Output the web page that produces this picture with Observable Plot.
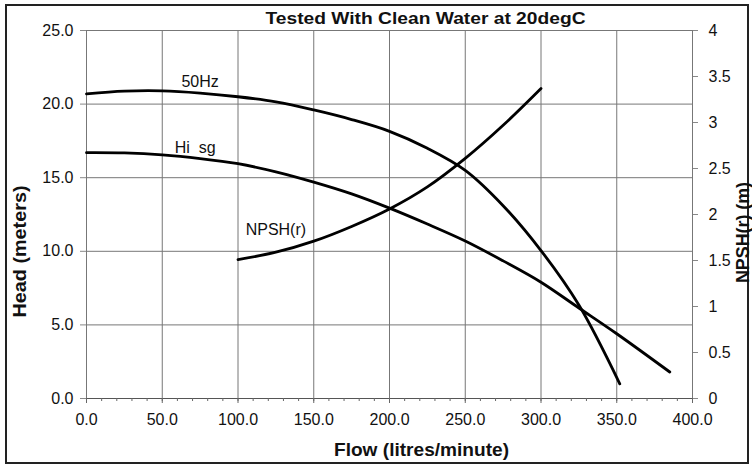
<!DOCTYPE html>
<html><head><meta charset="utf-8">
<script src="https://cdn.jsdelivr.net/npm/d3@7"></script>
<script src="https://cdn.jsdelivr.net/npm/@observablehq/plot@0.6"></script>
<style>
body{margin:0;background:#fff;font-family:"Liberation Sans",Arial,sans-serif;}
#wrap{position:relative;width:752px;height:466px;}
#border{position:absolute;left:5px;top:4px;width:740px;height:456px;border:2px solid #222;pointer-events:none;}
#wrap svg{position:absolute;left:0;top:0;}
</style></head><body><div id="wrap"><div id="border"></div></div>
<script>
// ---- data ----
const hz50Flow = [0, 25, 50, 75, 100, 125, 150, 175, 200, 225, 250, 275, 300, 325, 352];
const hz50Head = [20.7, 20.88, 20.9, 20.75, 20.5, 20.15, 19.6, 18.95, 18.15, 17.0, 15.5, 13.1, 10.05, 6.35, 1.0];
const hisgFlow = [0, 25, 50, 75, 100, 125, 150, 175, 200, 225, 250, 275, 300, 325, 350, 385];
const hisgHead = [16.7, 16.68, 16.55, 16.3, 15.95, 15.4, 14.7, 13.9, 12.93, 11.85, 10.7, 9.35, 7.9, 6.15, 4.4, 1.8];
const npshFlow = [100, 125, 150, 175, 200, 225, 250, 275, 300];
const npshVal  = [1.51, 1.59, 1.71, 1.87, 2.06, 2.3, 2.61, 2.97, 3.37];
const xMajor = [0, 50, 100, 150, 200, 250, 300, 350, 400];
const xMinor = [0,10,20,30,40,50,60,70,80,90,100,110,120,130,140,150,160,170,180,190,200,210,220,230,240,250,260,270,280,290,300,310,320,330,340,350,360,370,380,390,400];
const headTicks = [0, 5, 10, 15, 20, 25];
const npshTicks = [0, 0.5, 1, 1.5, 2, 2.5, 3, 3.5, 4];
const headMax = 25, npshMax = 4;
const labels = ["50Hz", "Hi\u00a0\u00a0sg", "NPSH(r)"];
const title = "Tested With Clean Water at 20degC";
const xTitle = "Flow (litres/minute)";
const yTitle = "Head (meters)";
const y2Title = "NPSH(r) (m)";

// ---- build ----
const k = headMax / npshMax;
const s50 = hz50Flow.map((f, i) => ({flow: f, head: hz50Head[i]}));
const sHi = hisgFlow.map((f, i) => ({flow: f, head: hisgHead[i]}));
const sNp = npshFlow.map((f, i) => ({flow: f, head: npshVal[i] * k}));
const grid = "#777";
const lineOpts = {x: "flow", y: "head", curve: "catmull-rom", stroke: "#000", strokeWidth: 2.8};
const titleOpts = {fontWeight: "bold", textAnchor: "middle", lineAnchor: "middle"};

const chart = Plot.plot({
  width: 752, height: 466,
  marginLeft: 86, marginRight: 60, marginTop: 30, marginBottom: 68,
  style: {fontFamily: "'Liberation Sans', Arial, sans-serif", fontSize: "16px", color: "#111", background: "transparent"},
  x: {domain: [0, 400]},
  y: {domain: [0, headMax]},
  marks: [
    Plot.gridX(xMajor.slice(1, -1), {stroke: grid, strokeOpacity: 1}),
    Plot.gridY(headTicks.slice(1, -1), {stroke: grid, strokeOpacity: 1}),
    Plot.frame({stroke: grid}),
    Plot.ruleY([0], {stroke: "#555"}),
    Plot.axisX(xMinor, {tickSize: 3, tickFormat: () => "", stroke: "#666", label: null}),
    Plot.axisX(xMajor, {tickSize: 5, tickPadding: 10, tickFormat: d3.format(".1f"), stroke: "#666", label: null}),
    Plot.axisY(headTicks, {tickSize: 6, tickPadding: 7, tickFormat: d3.format(".1f"), stroke: "#888", label: null}),
    Plot.axisY(npshTicks.map(v => v * k), {anchor: "right", tickSize: 5, tickPadding: 11, tickFormat: v => d3.format("")(+(v / k).toFixed(2)), stroke: "#888", label: null}),
    Plot.line(s50, lineOpts),
    Plot.line(sHi, lineOpts),
    Plot.line(sNp, lineOpts),
    Plot.text([s50[3]], {x: "flow", y: "head", text: () => labels[0], dy: -11, fontSize: 16}),
    Plot.text([sHi[3]], {x: "flow", y: "head", text: () => labels[1], dy: -11, dx: -5, fontSize: 16}),
    Plot.text([sNp[1]], {x: "flow", y: "head", text: () => labels[2], dy: -22, fontSize: 16}),
    Plot.text([title], {...titleOpts, frameAnchor: "top", dx: 36, dy: -12, fontSize: 17}),
    Plot.text([xTitle], {...titleOpts, frameAnchor: "bottom", dx: 32, dy: 52, fontSize: 18}),
    Plot.text([yTitle], {...titleOpts, frameAnchor: "left", dx: -66, dy: 37, rotate: -90, fontSize: 18}),
    Plot.text([y2Title], {...titleOpts, frameAnchor: "right", dx: 51, dy: 18, rotate: -90, fontSize: 18})
  ]
});
// stretch the wide titles to the reference's widths
const stretch = {[title]: 320, [xTitle]: 175, [yTitle]: 132, [y2Title]: 101};
d3.select(chart).selectAll("text").each(function () {
  const t = this.textContent;
  if (stretch[t]) { this.setAttribute("textLength", stretch[t]); this.setAttribute("lengthAdjust", "spacingAndGlyphs"); }
});
document.getElementById("wrap").appendChild(chart);
</script>
</body></html>
